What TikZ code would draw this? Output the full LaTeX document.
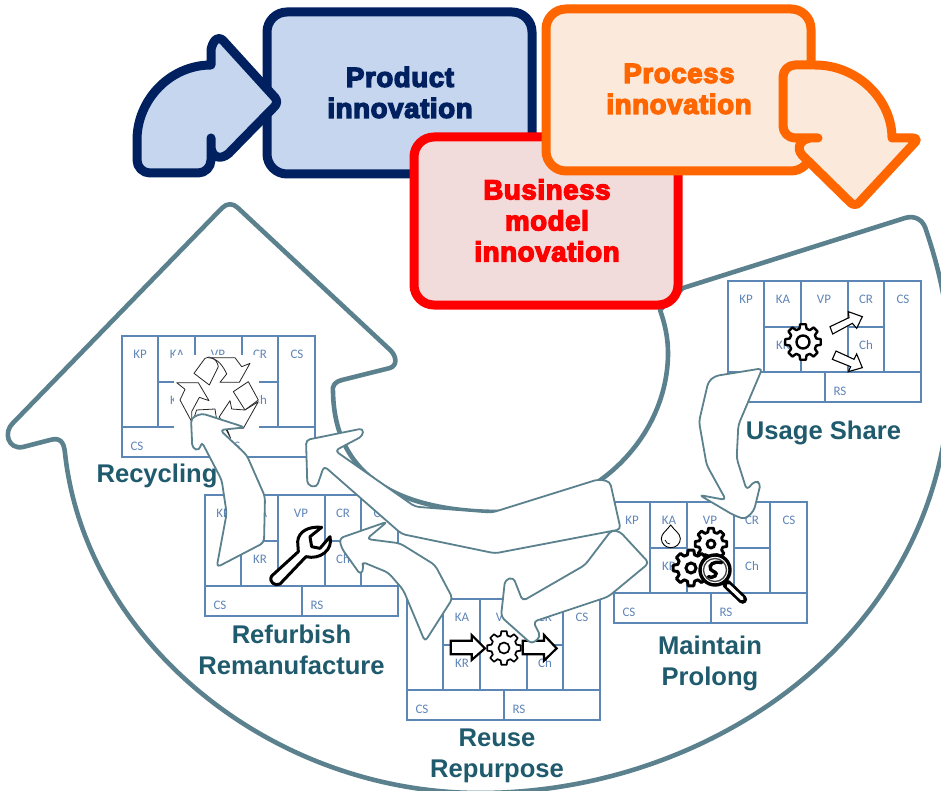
\documentclass[tikz,border=0pt]{standalone}
\usepackage{fontspec}
\setmainfont{Liberation Sans}
\newfontfamily\blackf{Liberation Sans Bold}[FakeBold=5,LetterSpace=2.5]
\newfontfamily\calib{Carlito}
\definecolor{arrowc}{HTML}{5A818D}
\definecolor{canvasc}{HTML}{5B86B5}
\definecolor{canvastxt}{HTML}{5F85B8}
\definecolor{labelc}{HTML}{1F5A6D}
\definecolor{navyc}{HTML}{002060}
\definecolor{bluef}{HTML}{C5D6EE}
\definecolor{orangec}{HTML}{FF6600}
\definecolor{orangef}{HTML}{FBE9DB}
\definecolor{redf}{HTML}{F2DCDB}
\tikzset{
  declare function={
    gearm(\k)=mod(\k,4);
    gearang(\k)=45*floor(\k/4)+(gearm(\k)<0.5?-15:(gearm(\k)<1.5?-9:(gearm(\k)<2.5?9:15)));
    gearrad(\k)=((gearm(\k)<0.5)||(gearm(\k)>2.5))?0.76:1;
  },
  bigarrow/.style={draw=arrowc,line width=4.6pt,fill=white,line join=round},
  flow/.style={draw=arrowc,line width=1.8pt,fill=white,line join=round,rounded corners=4pt},
  canvas/.style={draw=canvasc,line width=1.1pt},
  ctext/.style={text=canvastxt,font=\calib\fontsize{13}{13}\selectfont,inner sep=0pt},
  biglabel/.style={text=labelc,font=\bfseries\fontsize{25.6}{31}\selectfont,align=center,inner sep=0pt},
  innobox/.style={line width=9pt,rounded corners=20pt},
  innotext/.style={font=\blackf\fontsize{27.5}{31}\selectfont,align=center,inner sep=0pt},
  innoarrow/.style={line width=9pt,line join=round,line cap=round},
  recy/.style={draw=black!85,line width=.8pt,fill=white,line join=round},
  blockarrow/.style={draw=black,fill=white,line join=miter},
  zoomed/.style={x=.33333pt,y=-.33333pt},
}
\newcommand\bmc[3]{%
  \begin{scope}[shift={(#2,#3)}]
    \draw[canvas] (0,0) rectangle (193,121);
    \draw[canvas] (0,91)--(193,91) (36,0)--(36,91) (73,0)--(73,91) (120,0)--(120,91) (156,0)--(156,91)
      (36,46)--(73,46) (120,46)--(156,46) (97,91)--(97,121);
    \node[ctext] (#1kp) at (18,18) {KP};
    \node[ctext] (#1ka) at (55,18) {KA};
    \node[ctext] (#1vp) at (96,18) {VP};
    \node[ctext] (#1cr) at (138,18) {CR};
    \node[ctext] (#1cs) at (175,18) {CS};
    \node[ctext] (#1kr) at (55,64) {KR};
    \node[ctext] (#1ch) at (138,64) {Ch};
    \node[ctext] (#1bc) at (15,110) {CS};
    \node[ctext] (#1rs) at (112,110) {RS};
  \end{scope}}
\newcommand\gearicon[5]{% x y R r lw
  \begin{scope}[shift={(#1,#2)},x=#3pt,y=#3pt]
    \draw[black,line width=#5pt,fill=white,line join=round]
      plot[samples at={0,1,...,31}] ({gearang(\x)}:{gearrad(\x)}) -- cycle;
  \end{scope}
  \draw[black,line width=#5pt] (#1,#2) circle[radius=#4pt];}
\begin{document}
\begin{tikzpicture}[x=1pt,y=-1pt]
\useasboundingbox (0,0) rectangle (941,791);
\clip (0,0) rectangle (941,791);

% big circular arrow
\path[bigarrow] (683,288) -- (905,218) .. controls (915,215) and (922,220) .. (925,227)
  .. controls (938,265) and (950,310) .. (950,370)
  .. controls (950,630) and (715,793) .. (480,793)
  .. controls (270,793) and (85,640) .. (65,453)
  .. controls (64,442) and (60,437) .. (50,440) -- (23,447) .. controls (8,450) and (3,432) .. (13,423)
  -- (222,208) .. controls (227,203) and (233,203) .. (238,208)
  -- (388,348) .. controls (398,356) and (397,366) .. (390,368)
  -- (342,380) .. controls (335,382) and (332,385) .. (333,392)
  .. controls (335,490) and (420,512) .. (502,512)
  .. controls (594,512) and (668,437) .. (668,353)
  .. controls (668,338) and (665,324) .. (660,310)
  -- cycle;

% innovation boxes
\draw[innobox,draw=navyc,fill=bluef] (267,12) rectangle (532,174);
\node[innotext,text=navyc] (product) at (400,92.5) {Product\\innovation};
\draw[innoarrow,draw=navyc,fill=bluef] (211,65) .. controls (170,65) and (137,100) .. (137,140)
  [rounded corners=13pt] -- (137,173) -- (211,173) [sharp corners] -- (211,138) -- (211,148)
  .. controls (213,160) and (224,160) .. (232,150)
  [rounded corners=6pt] -- (279,102) -- (219,36) -- (211,45) [sharp corners] -- (211,65) -- cycle;
\draw[innobox,draw=red,fill=redf] (414,137) rectangle (678,305);
\node[innotext,text=red] (business) at (547,220.5) {Business\\model\\innovation};
\draw[innobox,draw=orangec,fill=orangef] (546,9) rectangle (811,171);
\node[innotext,text=orangec] (process) at (679,89) {Process\\innovation};
\draw[innoarrow,draw=orangec,fill=orangef] (815,65) .. controls (858,65) and (892,100) .. (892,138)
  [rounded corners=6pt] -- (919,138) -- (855,207) [sharp corners] -- (802,155)
  .. controls (796,148) and (800,140) .. (810,138) -- (818,138)
  [rounded corners=12pt] -- (783,138) -- (783,65) [sharp corners] -- (815,65) -- cycle;

% canvases
\bmc{rec}{122}{336}
\bmc{ref}{205}{495}
\bmc{reu}{407}{599}
\bmc{mai}{614}{502}
\bmc{usa}{728}{281}

% recycling icon
\fill[white] (174,355) rectangle (259,436);
\begin{scope}[shift={(0,190)},zoomed]
  \draw[recy] (582,550) -- (615,505) .. controls (630,495) and (650,505) .. (655,530) -- (628,585) -- cycle;
  \draw[recy] (625,503) -- (705,503) -- (725,530) -- (750,520) -- (718,577) -- (660,577) -- (680,552) .. controls (670,530) and (655,505) .. (625,503) -- cycle;
  \draw[recy] (530,578) -- (595,578) -- (627,632) -- (598,622) -- (575,665) -- (575,695) -- (540,630) -- (555,598) -- cycle;
  \draw[recy] (590,660) -- (645,657) -- (650,690) -- (578,695) -- cycle;
  \draw[recy] (700,605) -- (745,575) -- (775,630) -- (735,660) -- cycle;
  \draw[recy] (775,635) -- (730,715) -- (680,715) -- (692,745) -- (658,680) -- (690,632) -- (695,657) -- (735,660) -- cycle;
\end{scope}

% wrench
\begin{scope}[shift={(0,400)},zoomed]
  \draw[black,line width=3pt,fill=white,line join=round] (815,528) -- (895,455) -- (893,425)
    .. controls (895,395) and (925,378) .. (965,382) -- (930,410) -- (935,440) -- (960,445) -- (990,410)
    .. controls (1000,450) and (960,480) .. (918,470) -- (840,552) .. controls (825,560) and (805,545) .. (815,528) -- cycle;
\end{scope}

% usage share icons
\gearicon{803}{342}{18}{6.5}{2.4}
\begin{scope}[shift={(600,270)},zoomed]
  \draw[blockarrow,line width=1.1pt] (690,170) -- (747,143) -- (745,125) -- (787,140) -- (770,175) -- (757,160) -- (698,192) -- cycle;
  \draw[blockarrow,line width=1.1pt] (697,268) -- (708,243) -- (762,268) -- (770,252) -- (787,293) -- (745,305) -- (752,290) -- cycle;
\end{scope}

% reuse icons
\gearicon{504}{648}{17}{5.5}{1.7}
\begin{scope}[shift={(390,520)},zoomed]
  \draw[blockarrow,line width=2.2pt] (182,362) -- (245,362) -- (245,345) -- (285,385) -- (245,420) -- (245,403) -- (182,403) -- cycle;
  \draw[blockarrow,line width=2.2pt] (398,362) -- (462,362) -- (462,345) -- (500,385) -- (462,422) -- (462,403) -- (398,403) -- cycle;
\end{scope}

% maintain icons
\begin{scope}[shift={(540,440)},zoomed]
  \draw[black,line width=.9pt,fill=white] (392,255) .. controls (380,272) and (364,280) .. (364,296)
    .. controls (364,312) and (378,323) .. (392,323) .. controls (408,323) and (421,312) .. (421,296)
    .. controls (421,280) and (402,270) .. (392,255) -- cycle;
  \draw[black,line width=.7pt] (375,300) .. controls (378,308) and (383,312) .. (390,312);
\end{scope}
\gearicon{711}{544}{16}{4}{2.8}
\gearicon{691}{568}{18}{5}{3}
\begin{scope}[shift={(540,440)},zoomed]
  \draw[black,line width=9pt,line cap=round] (560,432) -- (608,478);
  \draw[white,line width=3.5pt,line cap=round] (565,437) -- (606,476);
  \draw[black,line width=3.4pt,fill=white] (525,390) circle[radius=15pt];
  \draw[black!75,line width=1.3pt] (525,390) circle[radius=11.5pt];
  \draw[black,line width=3.4pt,line cap=round] (545,368) .. controls (520,362) and (505,375) .. (512,388)
    .. controls (520,398) and (535,395) .. (525,408) .. controls (520,414) and (510,412) .. (505,410);
\end{scope}

% labels
\node[biglabel] (recycling) at (157,476) {Recycling};
\node[biglabel] (refurbish) at (291.5,649.5) {Refurbish\\Remanufacture};
\node[biglabel] (reuse) at (497,755.5) {Reuse\\Repurpose};
\node[biglabel] (maintain) at (710,663.5) {Maintain\\Prolong};
\node[biglabel] (usage) at (823.5,433) {Usage Share};

% flow arrows
\begin{scope}[shift={(600,270)},zoomed]
  \draw[flow] (487,295) -- (345,318) -- (325,335) -- (297,455) -- (320,585) -- (378,690) -- (298,675) -- (400,735) -- (435,748) -- (462,722) -- (482,640) -- (465,632) -- (440,660) -- (410,565) -- (415,465) -- cycle;
\end{scope}
\begin{scope}[shift={(300,420)},zoomed]
  \draw[flow] (960,335) -- (935,330) -- (855,435) -- (668,543) -- (640,472) -- (615,480) -- (603,590) -- (695,672) -- (722,650) -- (700,605) -- (925,530) -- (1047,429) -- cycle;
  \draw[flow] (895,178) -- (930,185) -- (962,328) -- (585,400) -- (305,342) -- (72,138) -- (50,202) -- (22,195) -- (18,60) -- (190,25) -- (188,48) -- (105,92) -- (345,260) -- (575,278) -- cycle;
  \draw[flow] (375,665) -- (458,535) -- (405,435) -- (300,370) -- (200,357) -- (262,305) -- (118,355) -- (125,385) -- (182,465) -- (192,442) -- (185,425) -- (265,458) -- (310,510) -- cycle;
\end{scope}
\begin{scope}[shift={(90,320)},zoomed]
  \draw[flow] (380,742) -- (522,668) -- (525,530) -- (470,405) -- (390,330) -- (465,322) -- (335,280) -- (303,295) -- (307,385) -- (328,392) -- (335,365) -- (395,480) -- (410,580) -- cycle;
\end{scope}
\end{tikzpicture}
\end{document}
